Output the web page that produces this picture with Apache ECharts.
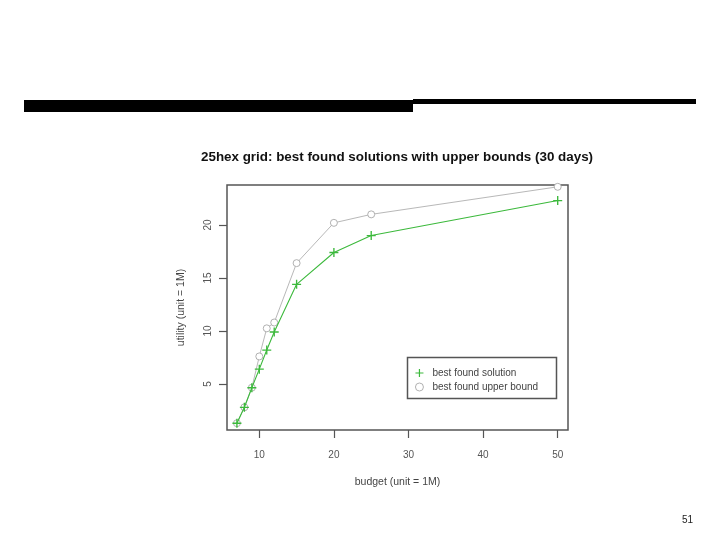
<!DOCTYPE html>
<html>
<head>
<meta charset="utf-8">
<script src="https://cdn.jsdelivr.net/npm/echarts@6/dist/echarts.min.js"></script>
<style>html,body{margin:0;padding:0;background:#fff;}#c{width:720px;height:540px;}</style>
</head>
<body>
<div id="c"></div>
<script>
// ---- data ----
var budget = [7, 8, 9, 10, 11, 12, 15, 20, 25, 50];
var bestSolution = [1.3, 2.8, 4.65, 6.4, 8.2, 9.9, 14.4, 17.4, 19.0, 22.3];
var upperBound = [1.3, 2.8, 4.65, 7.6, 10.25, 10.8, 16.4, 20.2, 21.0, 23.6];
var xTicks = [10, 20, 30, 40, 50];
var yTicks = [5, 10, 15, 20];
var seriesNames = ['best found solution', 'best found upper bound'];
var titleText = '25hex grid: best found solutions with upper bounds (30 days)';
var xTitle = 'budget (unit = 1M)';
var yTitle = 'utility (unit = 1M)';
var pageNumber = '51';

function pairs(xs, ys) { return xs.map(function (x, i) { return [x, ys[i]]; }); }

var plusPath = 'path://M3.4,0H4.6V3.4H8V4.6H4.6V8H3.4V4.6H0V3.4H3.4Z';
var green = '#3cb93c';
var grey = '#b8b8b8';
var FONT = 'Liberation Sans, Arial, sans-serif';

var chart = echarts.init(document.getElementById('c'), null, {renderer: 'canvas'});
chart.setOption({
  backgroundColor: '#ffffff',
  animation: false,
  title: {
    text: titleText,
    left: 196, top: 146,
    textStyle: {fontFamily: FONT, fontSize: 13.4, fontWeight: 'bold', color: '#111'}
  },
  grid: {
    left: 227, top: 185, width: 341, height: 245,
    show: true, borderColor: '#555', borderWidth: 1.5, backgroundColor: 'transparent',
    containLabel: false, outerBoundsMode: 'none'
  },
  xAxis: {
    type: 'value', min: 5.67, max: 51.38,
    axisLine: {show: false},
    splitLine: {show: false},
    axisTick: {show: true, length: 8, customValues: xTicks, lineStyle: {color: '#555', width: 1.2}},
    axisLabel: {customValues: xTicks, margin: 20, fontFamily: FONT, fontSize: 10, color: '#555'},
    name: xTitle, nameLocation: 'middle', nameGap: 47,
    nameTextStyle: {fontFamily: FONT, fontSize: 10.5, color: '#444'}
  },
  yAxis: {
    type: 'value', min: 0.66, max: 23.77,
    axisLine: {show: false},
    splitLine: {show: false},
    axisTick: {show: true, length: 8, customValues: yTicks, lineStyle: {color: '#555', width: 1.2}},
    axisLabel: {customValues: yTicks, rotate: 90, margin: 14, fontFamily: FONT, fontSize: 10, color: '#555'},
    name: yTitle, nameLocation: 'middle', nameGap: 40,
    nameTextStyle: {fontFamily: FONT, fontSize: 10.5, color: '#444'}
  },
  legend: {
    orient: 'vertical', left: 410, top: 363,
    itemWidth: 16, itemHeight: 8, itemGap: 4, selectedMode: false,
    textStyle: {fontFamily: FONT, fontSize: 10, color: '#444', lineHeight: 10},
    data: [
      {name: seriesNames[0], icon: plusPath},
      {name: seriesNames[1], icon: 'circle', itemStyle: {color: '#ffffff', borderColor: '#a8a8a8', borderWidth: 0.9}}
    ]
  },
  graphic: [
    {type: 'rect', shape: {x: 24, y: 100, width: 389, height: 12}, style: {fill: '#000'}},
    {type: 'rect', shape: {x: 413, y: 99, width: 283, height: 5}, style: {fill: '#000'}},
    {type: 'rect', shape: {x: 407.5, y: 357.5, width: 149, height: 41}, style: {fill: 'none', stroke: '#555', lineWidth: 1.5}, z: 1},
    {type: 'text', left: 682, top: 515, style: {text: pageNumber, font: '10px ' + FONT, fill: '#222'}}
  ],
  series: [
    {
      name: seriesNames[1], type: 'line', data: pairs(budget, upperBound), z: 2,
      symbol: 'circle', symbolSize: 7,
      lineStyle: {color: grey, width: 1},
      itemStyle: {color: '#ffffff', borderColor: '#a8a8a8', borderWidth: 0.9}
    },
    {
      name: seriesNames[0], type: 'line', data: pairs(budget, bestSolution), z: 3,
      symbol: plusPath, symbolSize: 9,
      lineStyle: {color: green, width: 1.1},
      itemStyle: {color: green}
    }
  ]
});
</script>
</body>
</html>
